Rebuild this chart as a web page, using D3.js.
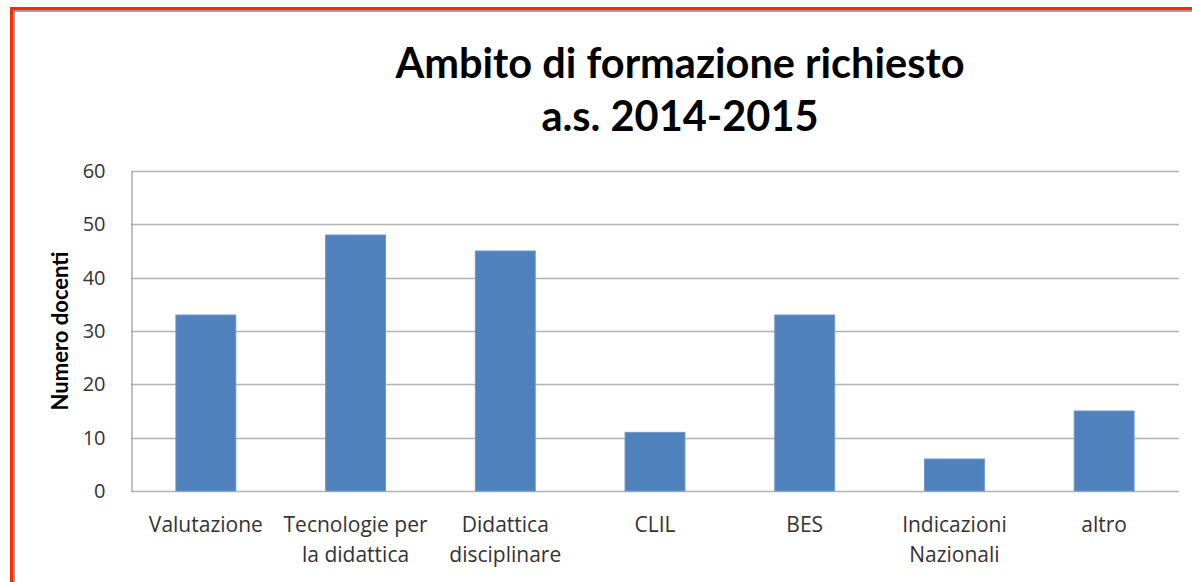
<!DOCTYPE html>
<html><head><meta charset="utf-8">
<script src="https://cdn.jsdelivr.net/npm/d3@7"></script>
<style>body{margin:0;background:#fff;}svg{display:block;}</style>
</head><body>
<script>
const categories = [["Valutazione"],["Tecnologie per","la didattica"],["Didattica","disciplinare"],["CLIL"],["BES"],["Indicazioni","Nazionali"],["altro"]];
const values = [33,48,45,11,33,6,15];
const yTicks = [0,10,20,30,40,50,60];
const titleLines = ["Ambito di formazione richiesto","a.s. 2014-2015"];
const yTitle = "Numero docenti";

const W=1192,H=582;
const svg=d3.select("body").append("svg").attr("width",W).attr("height",H);
const font="'Open Sans', Lato, sans-serif";
const tfont="Lato, 'Open Sans', sans-serif";
// frame
svg.append("rect").attr("x",11.5).attr("y",8.5).attr("width",W+20).attr("height",H+20).attr("fill","none").attr("stroke","#ff2a00").attr("stroke-width",3);
svg.append("rect").attr("x",14).attr("y",11).attr("width",W+20).attr("height",H+20).attr("fill","none").attr("stroke","#a0a0a0").attr("stroke-width",2);

const L=131,R=1179,T=171,B=491;
const x=d3.scaleBand().domain(d3.range(categories.length)).range([L,R]);
const y=d3.scaleLinear().domain([0,60]).range([B,T]);

// grid
svg.append("g").selectAll("line").data(yTicks).join("line")
 .attr("x1",L).attr("x2",R).attr("y1",d=>Math.round(y(d))+0.5).attr("y2",d=>Math.round(y(d))+0.5)
 .attr("stroke","#b3b3b3").attr("stroke-width",1.3);
// y axis
const ya=svg.append("g").attr("transform",`translate(${L+0.5},0)`).call(d3.axisLeft(y).tickValues(yTicks).tickSize(0).tickPadding(26));
ya.select(".domain").attr("stroke","#a0a0a0").attr("stroke-width",1.3);
ya.selectAll("text").attr("font-family",font).attr("font-size",20).attr("fill","#333");

// bars
const bw=x.bandwidth()*0.4;
svg.append("g").selectAll("rect").data(values).join("rect")
 .attr("x",(d,i)=>x(i)+x.bandwidth()/2-bw/2).attr("width",bw)
 .attr("y",d=>y(d)).attr("height",d=>B-y(d))
 .attr("fill","#4f81bd").attr("stroke","#6e98cc").attr("stroke-width",1);

// x labels
const xl=svg.append("g").selectAll("text").data(categories).join("text")
 .attr("x",(d,i)=>x(i)+x.bandwidth()/2).attr("y",532)
 .attr("text-anchor","middle").attr("font-family",font).attr("font-size",21).attr("fill","#333");
xl.selectAll("tspan").data(d=>d).join("tspan").attr("x",function(){return this.parentNode.getAttribute("x");})
 .attr("dy",(d,i)=>i?30:0).text(d=>d);

// y title
svg.append("text").attr("transform","translate(68,331) rotate(-90)").attr("text-anchor","middle")
 .attr("font-family",tfont).attr("font-weight","bold").attr("font-size",22).attr("fill","#000").text(yTitle);

// title
svg.append("g").selectAll("text").data(titleLines).join("text")
 .attr("x",680).attr("y",(d,i)=>78+i*53).attr("text-anchor","middle")
 .attr("font-family",tfont).attr("font-weight","bold").attr("font-size",41.5).attr("fill","#000").text(d=>d);
</script>
</body></html>
